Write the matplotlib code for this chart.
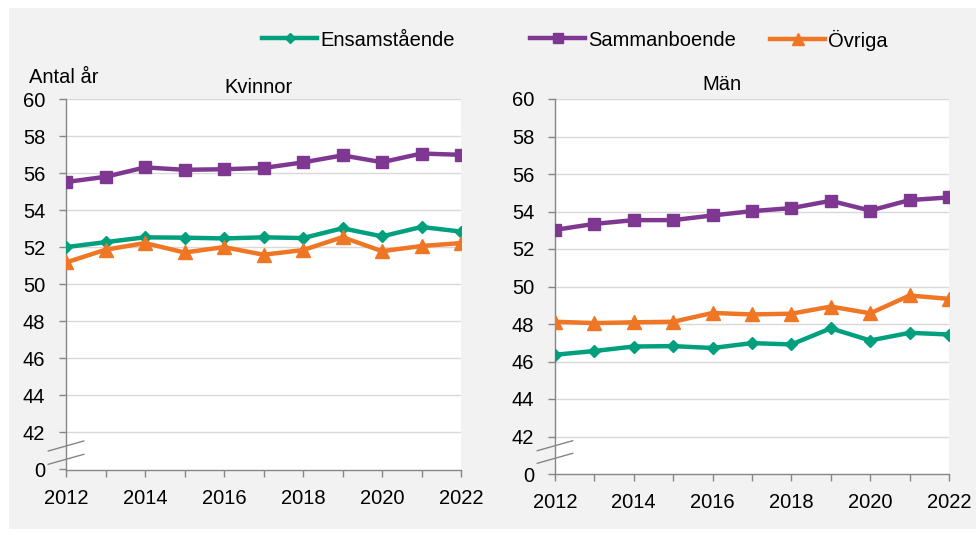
import matplotlib
matplotlib.use("Agg")
import matplotlib.pyplot as plt
from matplotlib.lines import Line2D
from matplotlib.patches import Rectangle

plt.rcParams['font.family'] = ['Liberation Sans', 'DejaVu Sans']

years = list(range(2012, 2023))
series_names = ["Ensamstående", "Sammanboende", "Övriga"]

kv_ensam = [52.02, 52.29, 52.55, 52.53, 52.49, 52.55, 52.51, 53.04, 52.60, 53.11, 52.86]
kv_samman = [55.54, 55.82, 56.33, 56.20, 56.23, 56.30, 56.60, 56.98, 56.61, 57.08, 57.01]
kv_ovriga = [51.19, 51.88, 52.24, 51.73, 52.02, 51.61, 51.86, 52.56, 51.80, 52.08, 52.24]

man_ensam = [46.36, 46.56, 46.80, 46.82, 46.72, 46.98, 46.91, 47.77, 47.12, 47.53, 47.44]
man_samman = [53.02, 53.34, 53.54, 53.54, 53.79, 54.02, 54.18, 54.57, 54.05, 54.61, 54.75]
man_ovriga = [48.12, 48.05, 48.09, 48.12, 48.59, 48.51, 48.55, 48.93, 48.57, 49.52, 49.34]

ytick_vals = [40, 42, 44, 46, 48, 50, 52, 54, 56, 58, 60]
ytick_labels = ["0", "42", "44", "46", "48", "50", "52", "54", "56", "58", "60"]
xtick_labels = [str(y) if y % 2 == 0 else "" for y in years]

colors = {"Ensamstående": "#00a07e", "Sammanboende": "#7f3892", "Övriga": "#ee7624"}
markers = {"Ensamstående": ("D", 6.5), "Sammanboende": ("s", 9), "Övriga": ("^", 9.5)}

W, H = 976, 533
fig = plt.figure(figsize=(W / 100, H / 100), dpi=100, facecolor="white")
fig.add_artist(Rectangle((9 / W, 4 / H), (W - 9) / W, (H - 12) / H,
                         transform=fig.transFigure, facecolor="#f2f2f2",
                         edgecolor="none", zorder=-10))

def px_axes(x0, x1, ytop, ybot):
    return fig.add_axes([x0 / W, 1 - ybot / H, (x1 - x0) / W, (ybot - ytop) / H])

ax1 = px_axes(66, 461, 99.5, 469.5)
ax2 = px_axes(555, 949, 99, 474)

grid_c = "#d9d9d9"
axis_c = "#868686"
FS = 14.5

for ax, data, brk in [
    (ax1, [kv_ensam, kv_samman, kv_ovriga], [(18.5, 28.5), (5.2, 15.2)]),
    (ax2, [man_ensam, man_samman, man_ovriga], [(23.3, 33.3), (10.7, 20.7)]),
]:
    ax.set_facecolor("white")
    for name, vals in zip(series_names, data):
        m, ms = markers[name]
        ax.plot(years, vals, color=colors[name], lw=3.2, marker=m, ms=ms,
                solid_joinstyle="round", zorder=3)
    ax.set_xlim(2012, 2022)
    ax.set_ylim(40, 60)
    ax.set_yticks(ytick_vals)
    ax.set_yticklabels(ytick_labels, fontsize=FS)
    ax.set_xticks(years)
    ax.set_xticklabels(xtick_labels, fontsize=FS)
    for y in ytick_vals[1:]:
        ax.axhline(y, color=grid_c, lw=1.0, zorder=1)
    for s in ["top", "right"]:
        ax.spines[s].set_visible(False)
    for s in ["left", "bottom"]:
        ax.spines[s].set_color(axis_c)
        ax.spines[s].set_linewidth(1.0)
        ax.spines[s].set_zorder(2)
    ax.tick_params(axis="y", length=5, width=1.0, color=axis_c, pad=10)
    ax.tick_params(axis="x", length=5, width=1.0, color=axis_c, pad=9)
    h_in_px = ax.get_position().height * H
    for (ylo, yhi) in brk:
        ax.add_line(Line2D([-0.045, 0.045], [ylo / h_in_px, yhi / h_in_px],
                           transform=ax.transAxes, color=axis_c, lw=1.0,
                           clip_on=False, zorder=4))

fig.text(29 / W, 1 - 83 / H, "Antal år", fontsize=FS, ha="left", va="baseline")
fig.text(258 / W, 1 - 93 / H, "Kvinnor", fontsize=FS, ha="center", va="baseline")
fig.text(722 / W, 1 - 90 / H, "Män", fontsize=FS, ha="center", va="baseline")

leg_x = {"Ensamstående": 262, "Sammanboende": 530, "Övriga": 770}
for name in series_names:
    m, ms = markers[name]
    h = Line2D([], [], color=colors[name], lw=3.2, marker=m, ms=ms * 0.85)
    fig.legend([h], [name], loc="center left",
               bbox_to_anchor=(leg_x[name] / W, 1 - 40 / H),
               frameon=False, fontsize=FS, handlelength=2.75,
               handletextpad=0.15, borderpad=0, borderaxespad=0)

fig.savefig("out.png", dpi=100, facecolor=fig.get_facecolor())
